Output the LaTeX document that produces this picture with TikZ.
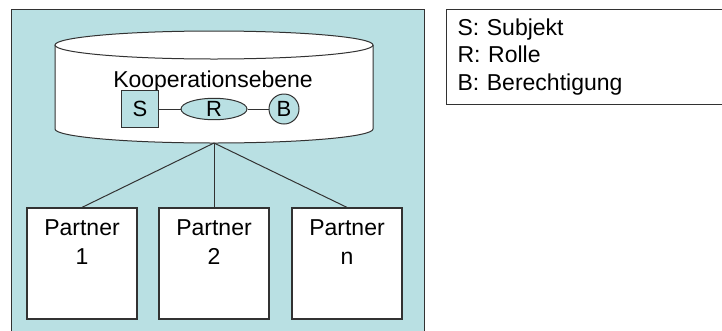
\documentclass[tikz,border=0pt]{standalone}
\usepackage{fontspec}
\setmainfont{Liberation Sans}
\usetikzlibrary{shapes.geometric,positioning}
\definecolor{kpteal}{RGB}{185,224,227}
\definecolor{kpline}{RGB}{50,50,50}
\tikzset{
  kppartner/.style={
    rectangle, draw=kpline, fill=white, line width=1.2pt,
    minimum width=110pt, minimum height=111pt, inner sep=0pt
  },
  kptext/.style={font=\fontsize{23}{29}\selectfont, align=center, inner sep=0pt},
  kpsubject/.style={
    rectangle, draw=kpline, fill=kpteal, line width=1pt,
    minimum size=37pt, inner sep=0pt, font=\fontsize{22}{22}\selectfont
  },
  kprole/.style={kpsubject, ellipse, minimum width=66pt, minimum height=17pt},
  kpright/.style={kpsubject, circle, minimum size=30pt},
  kplegend/.style={
    rectangle, draw=kpline, fill=white, line width=1pt, anchor=north west,
    minimum width=320pt, minimum height=95pt, text width=298pt, inner xsep=11pt,
    align=left, font=\fontsize{23}{27.5}\selectfont
  },
  kpedge/.style={draw=kpline, line width=1pt},
}
\begin{document}
\begin{tikzpicture}[x=1pt, y=1pt]
  \useasboundingbox (0,0) rectangle (722,-330);
  % Rahmen
  \draw[kpedge, fill=kpteal] (11,-9) rectangle (424,-340);
  \node (leg) [kplegend] at (446,-9) {S: Subjekt\\R: Rolle\\B: Berechtigung};
  % Kooperationsebene (Zylinder)
  \draw[kpedge, fill=white] (55,-45) -- (55,-129)
    arc[start angle=180, end angle=360, x radius=159, y radius=14] -- (373,-45);
  \draw[kpedge, fill=white] (214,-45) ellipse [x radius=159, y radius=14];
  \coordinate (hub) at (214,-143);
  \node (ko) [kptext, anchor=base] at (213,-87) {Kooperationsebene};
  \node (s) [kpsubject] at (140,-109) {S};
  \node (r) [kprole] at (214,-109) {R};
  \node (b) [kpright] at (284,-109) {B};
  \draw[kpedge] (s)--(r); \draw[kpedge] (r)--(b);
  % Partner
  \node (p1) [kppartner] at (82,-263.5) {};
  \node (p2) [kppartner] at (214,-263.5) {};
  \node (p3) [kppartner] at (347,-263.5) {};
  \node (t1) [kptext, anchor=north] at ([yshift=-12pt]p1.north) {Partner\\1};
  \node (t2) [kptext, anchor=north] at ([yshift=-12pt]p2.north) {Partner\\2};
  \node (t3) [kptext, anchor=north] at ([yshift=-12pt]p3.north) {Partner\\n};
  \draw[kpedge] (hub)--(p1.north); \draw[kpedge] (hub)--(p2.north);
  \draw[kpedge] (hub)--(p3.north);
\end{tikzpicture}
\end{document}
